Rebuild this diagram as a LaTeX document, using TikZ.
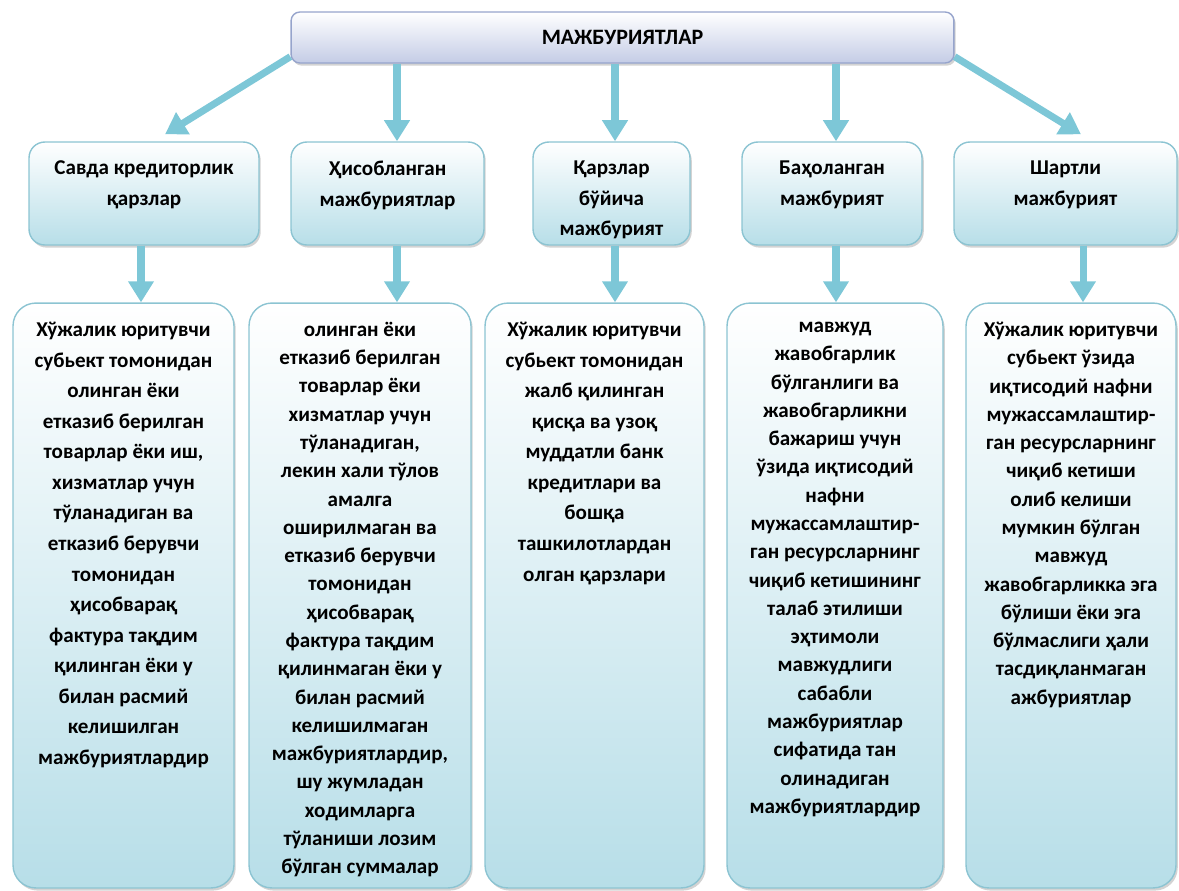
\documentclass[tikz,border=0pt]{standalone}
\usepackage{fontspec}
\setmainfont{Carlito}
\usetikzlibrary{arrows.meta,shadows}

\definecolor{boxline}{RGB}{140,196,210}
\definecolor{boxfill}{RGB}{183,222,232}
\definecolor{boxmid}{RGB}{200,230,238}
\definecolor{topline}{RGB}{150,164,204}
\definecolor{topfill}{RGB}{196,204,230}
\definecolor{arrowblue}{RGB}{125,199,215}

\begin{document}
\begin{tikzpicture}[x=0.02cm,y=-0.02cm,
    every node/.style={font=\bfseries\fontsize{12}{17.4}\selectfont},
    boxshadow/.style={drop shadow={shadow xshift=1pt,shadow yshift=-1.5pt,opacity=0.35}},
    topbox/.style={draw=topline,line width=0.8pt,rounded corners=5pt,top color=white,bottom color=topfill,boxshadow,font=\bfseries\fontsize{12.5}{15}\selectfont},
    headbox/.style={draw=boxline,line width=0.8pt,rounded corners=9pt,top color=white,bottom color=boxfill,minimum height=2.06cm,boxshadow},
    lowbox/.style={draw=boxline,line width=0.8pt,rounded corners=13pt,top color=white,middle color=boxmid,bottom color=boxfill,minimum height=11.7cm,boxshadow},
    boxtext/.style={anchor=north,align=center,inner sep=0pt},
    tight/.style={font=\bfseries\fontsize{12}{16.1}\selectfont},
    arr/.style={draw=arrowblue,line width=4pt,-{Triangle[width=14pt,length=12pt]}}]
        \useasboundingbox (0,0) rectangle (1179,890);
        % top
        \node[topbox,minimum width=13.26cm,minimum height=1.02cm] (top) at (622.5,37.5) {МАЖБУРИЯТЛАР};
        % second row
        \node[headbox,minimum width=4.6cm] (h1) at (144,193.5) {};
        \node[headbox,minimum width=3.86cm] (h2) at (387.5,193.5) {};
        \node[headbox,minimum width=3.14cm] (h3) at (611.5,193.5) {};
        \node[headbox,minimum width=3.6cm] (h4) at (832,193.5) {};
        \node[headbox,minimum width=4.46cm] (h5) at (1065.5,193.5) {};
        \node[boxtext] (t1) at ([yshift=-11pt]h1.north) {Савда кредиторлик\\қарзлар};
        \node[boxtext] (t2) at ([yshift=-11pt]h2.north) {Ҳисобланган\\мажбуриятлар};
        \node[boxtext] (t3) at ([yshift=-11pt]h3.north) {Қарзлар\\бўйича\\мажбурият};
        \node[boxtext] (t4) at ([yshift=-11pt]h4.north) {Баҳоланган\\мажбурият};
        \node[boxtext] (t5) at ([yshift=-11pt]h5.north) {Шартли\\мажбурият};
        % third row
        \node[lowbox,minimum width=4.42cm] (l1) at (123.5,595.5) {};
        \node[lowbox,minimum width=4.44cm] (l2) at (360,595.5) {};
        \node[lowbox,minimum width=4.38cm] (l3) at (594.5,595.5) {};
        \node[lowbox,minimum width=4.32cm] (l4) at (835,595.5) {};
        \node[lowbox,minimum width=4.2cm] (l5) at (1071,595.5) {};
        \node[boxtext] (d1) at ([yshift=-11pt]l1.north) {Хўжалик юритувчи\\субьект томонидан\\олинган ёки\\етказиб берилган\\товарлар ёки иш,\\хизматлар учун\\тўланадиган ва\\етказиб берувчи\\томонидан\\ҳисобварақ\\фактура тақдим\\қилинган ёки у\\билан расмий\\келишилган\\мажбуриятлардир};
        \node[boxtext,tight] (d2) at ([yshift=-11pt]l2.north) {олинган ёки\\етказиб берилган\\товарлар ёки\\хизматлар учун\\тўланадиган,\\лекин хали тўлов\\амалга\\оширилмаган ва\\етказиб берувчи\\томонидан\\ҳисобварақ\\фактура тақдим\\қилинмаган ёки у\\билан расмий\\келишилмаган\\мажбуриятлардир,\\шу жумладан\\ходимларга\\тўланиши лозим\\бўлган суммалар};
        \node[boxtext] (d3) at ([yshift=-11pt]l3.north) {Хўжалик юритувчи\\субьект томонидан\\жалб қилинган\\қисқа ва узоқ\\муддатли банк\\кредитлари ва\\бошқа\\ташкилотлардан\\олган қарзлари};
        \node[boxtext,tight] (d4) at ([yshift=-11pt]l4.north) {мавжуд\\жавобгарлик\\бўлганлиги ва\\жавобгарликни\\бажариш учун\\ўзида иқтисодий\\нафни\\мужассамлаштир-\\ган ресурсларнинг\\чиқиб кетишининг\\талаб этилиши\\эҳтимоли\\мавжудлиги\\сабабли\\мажбуриятлар\\сифатида тан\\олинадиган\\мажбуриятлардир};
        \node[boxtext,tight] (d5) at ([yshift=-11pt]l5.north) {Хўжалик юритувчи\\субьект ўзида\\иқтисодий нафни\\мужассамлаштир-\\ган ресурсларнинг\\чиқиб кетиши\\олиб келиши\\мумкин бўлган\\мавжуд\\жавобгарликка эга\\бўлиши ёки эга\\бўлмаслиги ҳали\\тасдиқланмаган\\ажбуриятлар};
        % arrow columns
        \coordinate (c1) at (141,0);
        \coordinate (c2) at (397,0);
        \coordinate (c3) at (615,0);
        \coordinate (c4) at (836,0);
        \coordinate (c5) at (1083,0);
        \draw [arr] ([yshift=4pt]top.south west) -- ([shift={(21,-7)}]h1.north);
        \draw [arr] (top.south -| c2) -- (h2.north -| c2);
        \draw [arr] (top.south -| c3) -- (h3.north -| c3);
        \draw [arr] (top.south -| c4) -- (h4.north -| c4);
        \draw [arr] ([yshift=4pt]top.south east) -- ([shift={(15.5,-7)}]h5.north);
        \draw [arr] (h1.south -| c1) -- (l1.north -| c1);
        \draw [arr] (h2.south -| c2) -- (l2.north -| c2);
        \draw [arr] (h3.south -| c3) -- (l3.north -| c3);
        \draw [arr] (h4.south -| c4) -- (l4.north -| c4);
        \draw [arr] (h5.south -| c5) -- (l5.north -| c5);
    \end{tikzpicture}
\end{document}
